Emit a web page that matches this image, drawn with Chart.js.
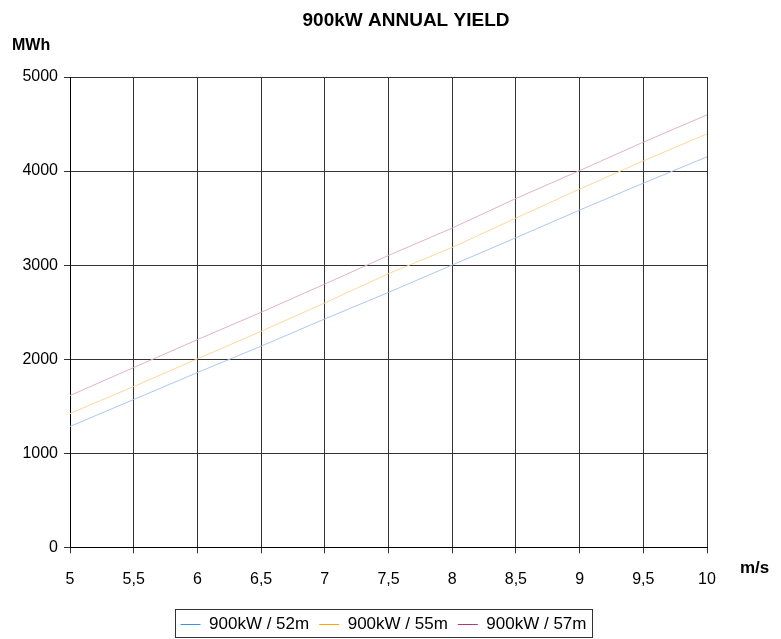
<!DOCTYPE html>
<html>
<head>
<meta charset="utf-8">
<script src="https://cdn.jsdelivr.net/npm/chart.js@4.4.0/dist/chart.umd.min.js"></script>
<style>
  html, body { margin: 0; padding: 0; background: #fff; }
  #wrap { width: 781px; height: 639px; }
</style>
</head>
<body>
<div id="wrap"><canvas id="yield_chart" width="781" height="639"></canvas></div>
<script>
// wind speed (m/s)
const speeds = [5, 5.5, 6, 6.5, 7, 7.5, 8, 8.5, 9, 9.5, 10];
// annual yield (MWh) per rotor diameter
const yield52 = [1285, 1571, 1858, 2138, 2428, 2710, 3001, 3291, 3585, 3871, 4151];
const yield55 = [1422, 1709, 2003, 2296, 2598, 2909, 3188, 3500, 3808, 4108, 4395];
const yield57 = [1614, 1911, 2208, 2498, 2799, 3103, 3394, 3708, 4005, 4307, 4597];
const seriesNames = ['900kW / 52m', '900kW / 55m', '900kW / 57m'];
const lineColors = ['#a9c9f2', '#ffd79c', '#dfb2c9'];
const legendColors = ['#3d8fe0', '#ffa500', '#b03a78'];

const font = "'Liberation Sans', Arial, sans-serif";

// タイトルと軸名、凡例の枠
const extraText = {
    id: 'extraText',
    afterLayout(chart) {
        // 凡例を少し右へ
        if (chart.legend) {
            chart.legend.left += 30;
            chart.legend.right += 30;
        }
    },
    afterDraw(chart) {
        const ctx = chart.ctx;
        const area = chart.chartArea;
        ctx.save();
        ctx.fillStyle = '#000';
        ctx.textBaseline = 'middle';
        ctx.font = 'bold 19px ' + font;
        ctx.textAlign = 'center';
        ctx.fillText('900kW ANNUAL YIELD', 406, 21);
        ctx.textAlign = 'left';
        ctx.font = 'bold 16px ' + font;
        ctx.fillText('MWh', 12, 46);
        ctx.font = 'bold 17px ' + font;
        ctx.fillText('m/s', area.right + 33, 568);
        // legend border
        const lg = chart.legend;
        if (lg && lg.legendHitBoxes.length) {
            const first = lg.legendHitBoxes[0];
            const last = lg.legendHitBoxes[lg.legendHitBoxes.length - 1];
            ctx.strokeStyle = '#333';
            ctx.lineWidth = 1;
            const l = Math.round(first.left) - 5.5;
            const r = Math.round(last.left + last.width) + 6.5;
            ctx.strokeRect(l, 609.5, r - l, 28);
        }
        ctx.restore();
    }
};

const ctx = document.querySelector('#yield_chart').getContext('2d');
new Chart(ctx, {
    type: 'line',
    data: {
        datasets: [yield52, yield55, yield57].map(function (vals, i) {
            return {
                label: seriesNames[i],
                data: speeds.map(function (s, j) { return { x: s, y: vals[j] }; }),
                borderColor: lineColors[i],
                backgroundColor: lineColors[i],
                borderWidth: 1,
                pointRadius: 0,
                tension: 0
            };
        })
    },
    options: {
        responsive: false,
        animation: false,
        layout: { padding: { top: 77, left: 0, right: 74, bottom: -4 } },
        plugins: {
            title: { display: false },
            tooltip: { enabled: false },
            legend: {
                position: 'bottom',
                labels: {
                    usePointStyle: true,
                    pointStyle: 'line',
                    pointStyleWidth: 20,
                    padding: 10,
                    color: '#000',
                    font: { family: font, size: 17 },
                    generateLabels: function (chart) {
                        return chart.data.datasets.map(function (ds, i) {
                            return {
                                text: ds.label,
                                strokeStyle: legendColors[i],
                                fillStyle: legendColors[i],
                                lineWidth: 1,
                                pointStyle: 'line',
                                hidden: false,
                                datasetIndex: i,
                                fontColor: '#000'
                            };
                        });
                    }
                }
            }
        },
        scales: {
            x: {
                type: 'linear',
                min: 5,
                max: 10,
                afterFit: function (scale) { scale.height = 58.7; },
                ticks: {
                    stepSize: 0.5,
                    color: '#000',
                    padding: 17,
                    maxRotation: 0,
                    font: { family: font, size: 16 },
                    callback: function (v) { return String(v).replace('.', ','); }
                },
                grid: { color: '#333', lineWidth: 1, tickLength: 6 },
                border: { color: '#000', width: 1 }
            },
            y: {
                min: 0,
                max: 5000,
                afterFit: function (scale) { scale.width = 70; },
                ticks: {
                    stepSize: 1000,
                    color: '#000',
                    padding: 6,
                    font: { family: font, size: 16 },
                    callback: function (v) { return String(v); }
                },
                grid: { color: '#333', lineWidth: 1, tickLength: 6 },
                border: { color: '#000', width: 1 }
            }
        }
    },
    plugins: [extraText]
});
</script>
</body>
</html>
